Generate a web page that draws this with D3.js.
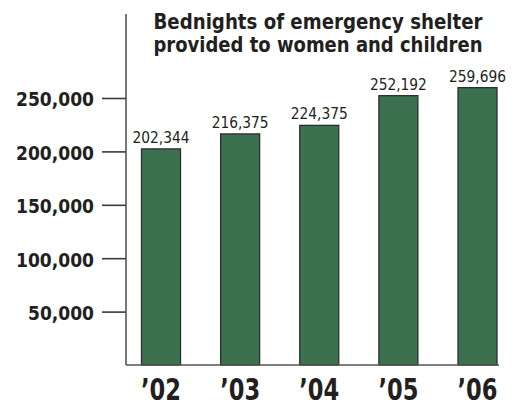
<!DOCTYPE html>
<html><head><meta charset="utf-8">
<script src="https://cdn.jsdelivr.net/npm/d3@7"></script>
<style>
body{margin:0;background:#fff;}
text{font-family:"DejaVu Sans Condensed","DejaVu Sans",sans-serif;font-stretch:condensed;}
</style></head>
<body><svg id="c" width="516" height="406"></svg>
<script>
const years = ["’02","’03","’04","’05","’06"];
const values = [202344, 216375, 224375, 252192, 259696];
const valueLabels = ["202,344","216,375","224,375","252,192","259,696"];
const tickValues = [50000, 100000, 150000, 200000, 250000];
const titleLines = ["Bednights of emergency shelter","provided to women and children"];

const svg = d3.select("#c");
const y = d3.scaleLinear().domain([0, 250000]).range([365, 98]);
const x = d3.scalePoint().domain(years).range([161, 477.5]);
const bw = 39;

// bars
svg.append("g").selectAll("rect").data(values).join("rect")
  .attr("x", (d,i)=>x(years[i]) - bw/2)
  .attr("y", d=>y(d))
  .attr("width", bw)
  .attr("height", d=>y(0)-y(d))
  .attr("fill", "#3c7150")
  .attr("stroke", "#2e2e2e")
  .attr("stroke-width", 1.3);

// value labels
svg.append("g").selectAll("text").data(values).join("text")
  .attr("x", (d,i)=>x(years[i]))
  .attr("y", d=>y(d) - 6)
  .attr("text-anchor","middle")
  .attr("font-size", 16.5)
  .attr("fill","#231f20")
  .attr("textLength", 57)
  .attr("lengthAdjust","spacingAndGlyphs")
  .text((d,i)=>valueLabels[i]);

// y axis
const yAxis = d3.axisLeft(y).tickValues(tickValues).tickSize(24).tickPadding(8)
  .tickFormat(d3.format(","));
const ga = svg.append("g").attr("transform","translate(126,0)").call(yAxis);
ga.select(".domain").remove();
ga.selectAll(".tick line").attr("stroke","#3a3a3a").attr("stroke-width",1.6);
ga.selectAll(".tick text").attr("font-size",19.5).attr("font-weight","bold")
  .attr("fill","#231f20").attr("dy","0.4em")
  .attr("font-family",'"DejaVu Sans Condensed","DejaVu Sans",sans-serif')
  .attr("textLength", d => d >= 100000 ? 78 : 66)
  .attr("lengthAdjust","spacingAndGlyphs");
svg.append("line").attr("x1",126).attr("x2",126).attr("y1",14).attr("y2",y(0))
  .attr("stroke","#555").attr("stroke-width",1.6);
// baseline
svg.append("line").attr("x1",126).attr("x2",499).attr("y1",y(0)).attr("y2",y(0))
  .attr("stroke","#555").attr("stroke-width",1.6);

// x labels
svg.append("g").selectAll("text").data(years).join("text")
  .attr("x", d=>x(d))
  .attr("y", 400)
  .attr("text-anchor","middle")
  .attr("font-size", 30)
  .attr("font-weight","bold")
  .attr("fill","#231f20")
  .attr("textLength", 40)
  .attr("lengthAdjust","spacingAndGlyphs")
  .text(d=>d);

// title
svg.append("g").selectAll("text").data(titleLines).join("text")
  .attr("x", 318)
  .attr("y", (d,i)=>28.5 + i*23.5)
  .attr("text-anchor","middle")
  .attr("font-size", 21.5)
  .attr("font-weight","bold")
  .attr("fill","#231f20")
  .attr("textLength", 329)
  .attr("lengthAdjust","spacingAndGlyphs")
  .text(d=>d);
</script></body></html>
